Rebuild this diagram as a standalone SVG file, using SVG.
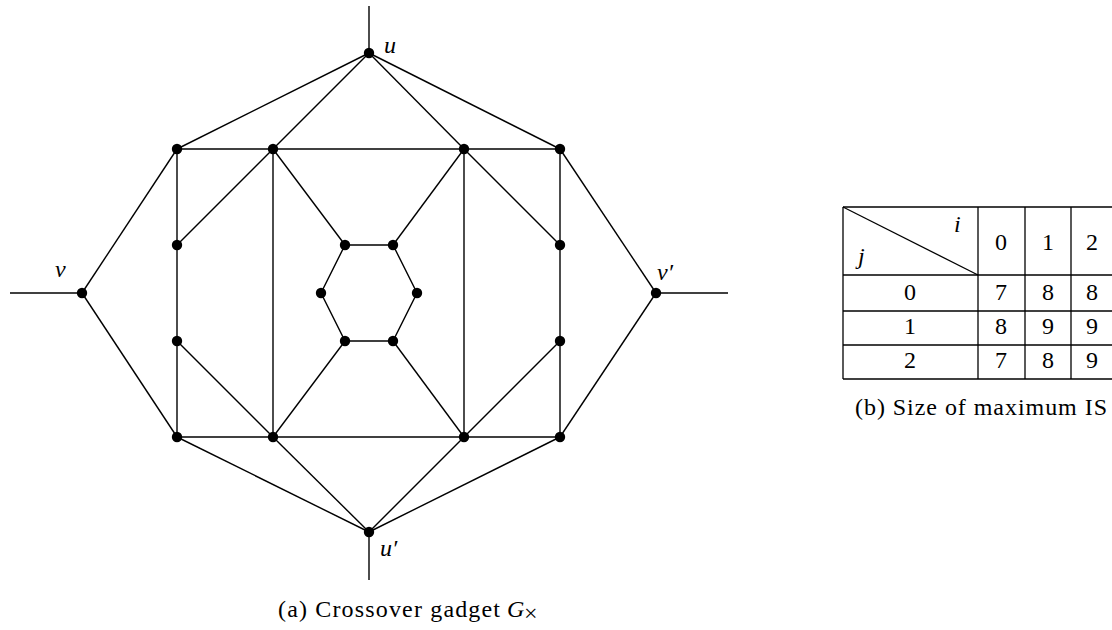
<svg xmlns="http://www.w3.org/2000/svg" width="1112" height="630" viewBox="0 0 1112 630">
<style>
.e{stroke:#000;stroke-width:1.4;fill:none}
.n{fill:#000}
.lbl{font-family:"Liberation Serif",serif;font-style:italic;font-size:24px;fill:#000}
.num{font-family:"Liberation Serif",serif;font-size:24px;fill:#000;text-anchor:middle}
.cap{font-family:"Liberation Serif",serif;font-size:24px;fill:#000}
.t{stroke:#000;stroke-width:1.3;fill:none}
</style>
<rect width="1112" height="630" fill="#fff"/>
<g id="connectors">
<line class="e" x1="369" y1="6" x2="369" y2="53"/>
<line class="e" x1="369" y1="532" x2="369" y2="580"/>
<line class="e" x1="10" y1="293" x2="82" y2="293"/>
<line class="e" x1="656" y1="293" x2="728" y2="293"/>
<line class="e" x1="369" y1="53" x2="177" y2="149"/>
<line class="e" x1="369" y1="53" x2="273" y2="149"/>
<line class="e" x1="369" y1="53" x2="464" y2="149"/>
<line class="e" x1="369" y1="53" x2="560" y2="149"/>
<line class="e" x1="369" y1="532" x2="177" y2="437"/>
<line class="e" x1="369" y1="532" x2="273" y2="437"/>
<line class="e" x1="369" y1="532" x2="464" y2="437"/>
<line class="e" x1="369" y1="532" x2="560" y2="437"/>
<line class="e" x1="82" y1="293" x2="177" y2="149"/>
<line class="e" x1="82" y1="293" x2="177" y2="437"/>
<line class="e" x1="656" y1="293" x2="560" y2="149"/>
<line class="e" x1="656" y1="293" x2="560" y2="437"/>
<line class="e" x1="177" y1="149" x2="560" y2="149"/>
<line class="e" x1="177" y1="437" x2="560" y2="437"/>
<line class="e" x1="177" y1="149" x2="177" y2="437"/>
<line class="e" x1="560" y1="149" x2="560" y2="437"/>
<line class="e" x1="273" y1="149" x2="273" y2="437"/>
<line class="e" x1="464" y1="149" x2="464" y2="437"/>
<line class="e" x1="177" y1="245" x2="273" y2="149"/>
<line class="e" x1="177" y1="341" x2="273" y2="437"/>
<line class="e" x1="560" y1="245" x2="464" y2="149"/>
<line class="e" x1="560" y1="341" x2="464" y2="437"/>
<line class="e" x1="273" y1="149" x2="345" y2="245"/>
<line class="e" x1="464" y1="149" x2="393" y2="245"/>
<line class="e" x1="273" y1="437" x2="345" y2="341"/>
<line class="e" x1="464" y1="437" x2="393" y2="341"/>
<polygon class="e" points="345,245 393,245 417,293 393,341 345,341 321,293"/>
</g>
<g id="u"><circle class="n" cx="369" cy="53" r="5.2"/><text class="lbl" x="384" y="53">u</text></g>
<g id="u2"><circle class="n" cx="369" cy="532" r="5.2"/><text class="lbl" x="380" y="556">u′</text></g>
<g id="v"><circle class="n" cx="82" cy="293" r="5.2"/><text class="lbl" x="55" y="277">v</text></g>
<g id="v2"><circle class="n" cx="656" cy="293" r="5.2"/><text class="lbl" x="657" y="280">v′</text></g>
<g id="a1"><circle class="n" cx="177" cy="149" r="5.2"/></g>
<g id="a2"><circle class="n" cx="273" cy="149" r="5.2"/></g>
<g id="a3"><circle class="n" cx="464" cy="149" r="5.2"/></g>
<g id="a4"><circle class="n" cx="560" cy="149" r="5.2"/></g>
<g id="b1"><circle class="n" cx="177" cy="437" r="5.2"/></g>
<g id="b2"><circle class="n" cx="273" cy="437" r="5.2"/></g>
<g id="b3"><circle class="n" cx="464" cy="437" r="5.2"/></g>
<g id="b4"><circle class="n" cx="560" cy="437" r="5.2"/></g>
<g id="l1"><circle class="n" cx="177" cy="245" r="5.2"/></g>
<g id="l2"><circle class="n" cx="177" cy="341" r="5.2"/></g>
<g id="r1"><circle class="n" cx="560" cy="245" r="5.2"/></g>
<g id="r2"><circle class="n" cx="560" cy="341" r="5.2"/></g>
<g id="h1"><circle class="n" cx="345" cy="245" r="5.2"/></g>
<g id="h2"><circle class="n" cx="393" cy="245" r="5.2"/></g>
<g id="h3"><circle class="n" cx="417" cy="293" r="5.2"/></g>
<g id="h4"><circle class="n" cx="393" cy="341" r="5.2"/></g>
<g id="h5"><circle class="n" cx="345" cy="341" r="5.2"/></g>
<g id="h6"><circle class="n" cx="321" cy="293" r="5.2"/></g>
<text class="cap" x="278" y="617" textLength="222" lengthAdjust="spacing">(a) Crossover gadget</text>
<text class="cap" x="507" y="617" font-style="italic">G</text>
<text class="cap" x="524" y="621" font-size="15">×</text>
<g id="table">
<line class="t" x1="843" y1="207" x2="1117" y2="207"/>
<line class="t" x1="843" y1="275" x2="1117" y2="275"/>
<line class="t" x1="843" y1="311" x2="1117" y2="311"/>
<line class="t" x1="843" y1="345" x2="1117" y2="345"/>
<line class="t" x1="843" y1="379" x2="1117" y2="379"/>
<line class="t" x1="843" y1="207" x2="843" y2="379"/>
<line class="t" x1="978" y1="207" x2="978" y2="379"/>
<line class="t" x1="1025" y1="207" x2="1025" y2="379"/>
<line class="t" x1="1071" y1="207" x2="1071" y2="379"/>
<line class="t" x1="843" y1="207" x2="978" y2="275"/>
<text class="lbl" x="954" y="232" font-size="23">i</text>
<text class="lbl" x="858" y="264" font-size="23">j</text>
<text class="num" x="1001" y="250">0</text>
<text class="num" x="1048" y="250">1</text>
<text class="num" x="1092" y="250">2</text>
<text class="num" x="910" y="300">0</text>
<text class="num" x="1001" y="300">7</text>
<text class="num" x="1048" y="300">8</text>
<text class="num" x="1092" y="300">8</text>
<text class="num" x="910" y="334">1</text>
<text class="num" x="1001" y="334">8</text>
<text class="num" x="1048" y="334">9</text>
<text class="num" x="1092" y="334">9</text>
<text class="num" x="910" y="368">2</text>
<text class="num" x="1001" y="368">7</text>
<text class="num" x="1048" y="368">8</text>
<text class="num" x="1092" y="368">9</text>
</g>
<text class="cap" x="855" y="415" textLength="252" lengthAdjust="spacing">(b) Size of maximum IS</text>
</svg>
